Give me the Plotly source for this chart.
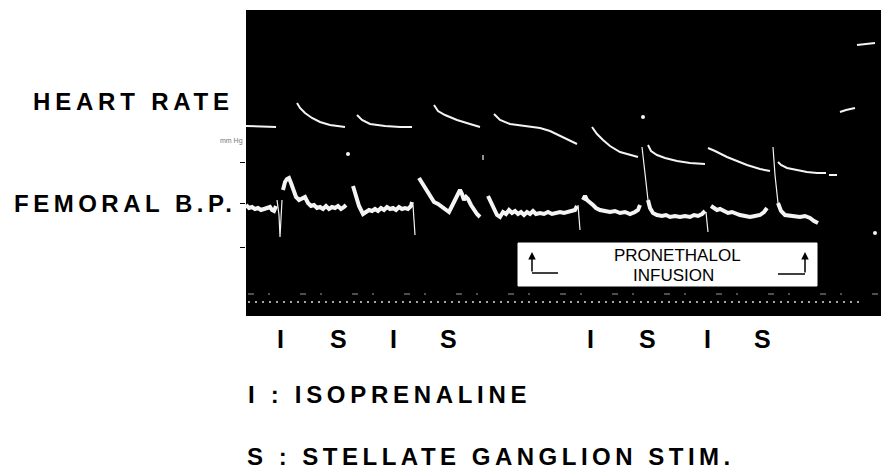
import plotly.graph_objects as go

# ---------------- data read from the recording (time units ~ px, level units ~ px, top = high) -------------
# Heart-rate trace (None separates pen strokes)
hr_x = [246, 260, 276, None,
        297, 300, 305, 312, 320, 330, 345, None,
        357, 362, 370, 385, 400, 412, None,
        434, 438, 445, 457, 470, 480, None,
        494, 500, 510, 525, 540, 550, 560, 570, 577, None,
        592, 597, 603, 610, 620, 630, 638, None,
        648, 651, 657, 665, 677, 690, 705, None,
        708, 715, 727, 737, 747, 760, 770, None,
        778, 781, 787, 797, 807, 817, 826, None, 829, 837, None,
        840, 846, 855, None,
        857, 866, 875]
hr_y = [126, 126.5, 127, None,
        103, 108, 113, 118, 122, 125, 127, None,
        115, 120, 124, 126, 127, 127, None,
        105, 111, 115, 120, 124, 127, None,
        114, 120, 124, 126, 128, 131, 136, 141, 144, None,
        127, 134, 140, 146, 152, 155, 157, None,
        145, 151, 155, 158, 161, 163, 164, None,
        148, 151, 157, 161, 165, 169, 171, None,
        162, 165, 168, 170, 172, 173, 173, None, 175, 175, None,
        112, 110, 108, None,
        45, 44, 43]

# Femoral blood pressure trace (thick pen)
bp_x = [246, 249, 252, 255, 258, 261, 264, 267, 270, 272, 274, 276, None,
        283, 285, 287, 289, 291, 293, 296, 299, 302, 305, 308, 311, 314, 317, 320, 323, 326,
        329, 332, 335, 338, 341, 344, 346, None,
        353, 356, 359, 363, 366, 369, 372, 375, 378, 381, 384, 387, 390, 393, 396, 399, 402,
        405, 408, 411, 412, None,
        419, 422, 426, 430, 434, 438, 442, 446, 449, 452, 455, 458, 460, 462, 464, 466, 468,
        471, 474, 477, 480, None,
        488, 491, 494, 497, 500, 503, 506, 509, 512, 515, 518, 521, 524, 527, 530, 533, 536,
        540, 544, 548, 552, 556, 560, 564, 568, 572, 575, 577, None,
        583, 585, 587, 590, 593, 596, 600, 605, 610, 615, 620, 625, 630, 635, 638, 640, None,
        648, 650, 653, 657, 662, 666, 670, 675, 680, 685, 690, 694, 698, 702, 705, None,
        711, 714, 717, 720, 724, 728, 732, 736, 740, 745, 750, 755, 760, 764, 767, None,
        778, 781, 785, 790, 795, 800, 805, 810, 814, 818]
bp_y = [205, 208, 207, 209, 208, 210, 209, 208, 207, 210, 211, 206, None,
        190, 182, 179, 178, 183, 189, 197, 200, 199, 197, 203, 206, 205, 208, 207, 209, 206,
        209, 207, 208, 206, 209, 207, 205, None,
        186, 196, 206, 214, 212, 210, 211, 209, 211, 208, 210, 207, 209, 208, 210, 207, 209,
        208, 209, 206, 202, None,
        178, 183, 190, 197, 202, 204, 207, 211, 212, 206, 200, 193, 190, 194, 200, 197, 199,
        205, 210, 214, 217, None,
        196, 203, 210, 215, 217, 212, 214, 210, 213, 211, 214, 212, 215, 212, 214, 211, 214,
        213, 214, 212, 214, 213, 212, 213, 212, 211, 210, 206, None,
        200, 196, 200, 202, 205, 208, 210, 211, 212, 211, 213, 212, 214, 212, 210, 205, None,
        200, 208, 213, 215, 216, 215, 217, 216, 217, 216, 217, 215, 216, 214, 211, None,
        206, 208, 210, 209, 211, 213, 212, 214, 215, 216, 217, 216, 215, 212, 208, None,
        203, 211, 215, 216, 217, 217, 216, 218, 221, 223]

# Fast deflections drawn by a thin pen (injection / stimulation artefacts)
spike_x = [277, 279, 280, 282, None, 413, 415, None, 578, 580, None, 706, 708, None,
           483, 483, None, 642, 645, 648, None, 773, 775, 778]
spike_y = [200, 215, 237, 200, None, 205, 235, None, 205, 230, None, 212, 232, None,
           155, 160, None, 147, 175, 200, None, 147, 175, 203]
dot_x = [348, 643, 875]
dot_y = [154, 117, 233]

# Drug / stimulus annotations
stim_labels = ["I", "S", "I", "S", "I", "S", "I", "S"]
stim_label_x = [280, 338, 393, 448, 590, 647, 707, 762]
infusion_start = 532
infusion_end = 805
scale_ticks = [162, 203, 247]
timer_start, timer_end = 248, 862

# ---------------- figure ---------------------------------------------------------------------------------
FONT = "Liberation Sans, Arial, Helvetica, sans-serif"
WHITE = "#f4f4f4"

# page offset (browser body margin) and plot frame in page pixels
OFF = 8
PX0, PX1, PY0, PY1 = 246, 889, 10, 316


def px(xp):   # page x -> paper x
    return (xp - PX0) / (PX1 - PX0)


def py(yp):   # page y -> paper y
    return (PY1 - yp) / (PY1 - PY0)


fig = go.Figure()
fig.add_trace(go.Scatter(x=hr_x, y=hr_y, mode="lines", line=dict(color=WHITE, width=2),
                         connectgaps=False, hoverinfo="skip", showlegend=False))
fig.add_trace(go.Scatter(x=bp_x, y=bp_y, mode="lines", line=dict(color=WHITE, width=4),
                         connectgaps=False, hoverinfo="skip", showlegend=False))
fig.add_trace(go.Scatter(x=spike_x, y=spike_y, mode="lines", line=dict(color=WHITE, width=1.2),
                         connectgaps=False, hoverinfo="skip", showlegend=False))
fig.add_trace(go.Scatter(x=dot_x, y=dot_y, mode="markers", marker=dict(color=WHITE, size=4),
                         hoverinfo="skip", showlegend=False))

# time-marker rows at the bottom of the record
fig.add_shape(type="line", x0=timer_start, x1=timer_end, y0=302, y1=302,
              line=dict(color="#dddddd", width=1.5, dash="2px,5px"))
fig.add_shape(type="line", x0=timer_start, x1=889, y0=294, y1=294,
              line=dict(color="#9a9a9a", width=1, dash="6px,14px,2px,30px"))

# pronethalol box
fig.add_shape(type="rect", x0=infusion_start - 14, x1=infusion_end + 12, y0=243, y1=286,
              fillcolor="white", line=dict(color="white", width=1), layer="above")
fig.add_shape(type="line", x0=infusion_start, x1=infusion_start + 26, y0=273, y1=273,
              line=dict(color="black", width=1.5), layer="above")
fig.add_shape(type="line", x0=infusion_end - 27, x1=infusion_end, y0=274, y1=274,
              line=dict(color="black", width=1.5), layer="above")
for xa, yb in [(infusion_start, 273), (infusion_end, 274)]:
    fig.add_annotation(x=xa, y=252, ax=xa, ay=yb, xref="x", yref="y", axref="x", ayref="y",
                       text="", showarrow=True, arrowhead=2, arrowsize=1, arrowwidth=1.5,
                       arrowcolor="black")
fig.add_annotation(x=677, y=255, xref="x", yref="y", text="PRONETHALOL", showarrow=False,
                   font=dict(family=FONT, size=17, color="black"))
fig.add_annotation(x=673, y=275, xref="x", yref="y", text="INFUSION", showarrow=False,
                   font=dict(family=FONT, size=17, color="black"))


def spaced(t, sp):
    return f'<span style="letter-spacing:{sp}px"><b>{t}</b></span>'


# channel labels (outside the record -> paper coordinates)
fig.add_annotation(x=px(236), y=py(101), xref="paper", yref="paper", xanchor="right", yanchor="middle",
                   text=spaced("HEART RATE", 4.8), showarrow=False,
                   font=dict(family=FONT, size=24, color="black"))
fig.add_annotation(x=px(238), y=py(203), xref="paper", yref="paper", xanchor="right", yanchor="middle",
                   text=spaced("FEMORAL B.P.", 4.5), showarrow=False,
                   font=dict(family=FONT, size=24, color="black"))
fig.add_annotation(x=px(218), y=py(141), xref="paper", yref="paper", yanchor="middle",
                   text="mm Hg", showarrow=False,
                   font=dict(family=FONT, size=7, color="#777777"))

# stimulus letters
for lab, xx in zip(stim_labels, stim_label_x):
    fig.add_annotation(x=xx, y=py(339), xref="x", yref="paper", yanchor="middle",
                       text=f"<b>{lab}</b>", showarrow=False,
                       font=dict(family=FONT, size=25, color="black"))

# legend text
fig.add_annotation(x=px(246), y=py(394), xref="paper", yref="paper", xanchor="left", yanchor="middle",
                   text=spaced("I : ISOPRENALINE", 4.7), showarrow=False,
                   font=dict(family=FONT, size=24, color="black"))
fig.add_annotation(x=px(245), y=py(456), xref="paper", yref="paper", xanchor="left", yanchor="middle",
                   text=spaced("S : STELLATE GANGLION STIM.", 4.5), showarrow=False,
                   font=dict(family=FONT, size=24, color="black"))

fig.update_layout(
    width=889 - OFF, height=469 - OFF,
    margin=dict(l=PX0 - OFF, r=0, t=PY0 - OFF, b=469 - PY1, pad=0),
    paper_bgcolor="white", plot_bgcolor="black",
    xaxis=dict(range=[PX0, PX1], showgrid=False, zeroline=False, showticklabels=False,
               ticks="", showline=False),
    yaxis=dict(range=[PY1, PY0], showgrid=False, zeroline=False, showticklabels=False,
               tickvals=scale_ticks, ticks="outside", ticklen=5, tickcolor="black", tickwidth=1,
               showline=False),
)

fig.write_html("out.html")
